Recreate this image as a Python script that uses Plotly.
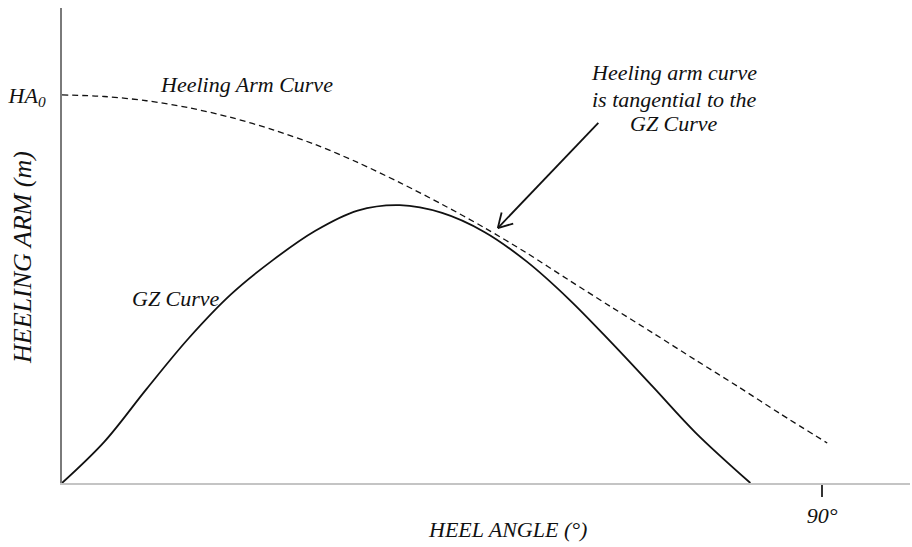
import math
import plotly.graph_objects as go

# Heel angle (degrees) and righting lever GZ (fraction of HA0)
gz_angle = [0, 5, 10, 15, 20, 25, 30, 35, 40, 45, 50, 55, 60, 65, 70, 75, 81.5]
gz_value = [0.0, 0.106, 0.242, 0.373, 0.486, 0.575, 0.650, 0.702, 0.716, 0.696,
            0.647, 0.571, 0.474, 0.363, 0.247, 0.130, 0.0]

# Heeling arm curve (fraction of HA0)
ha_angle = [0, 5, 10, 15, 20, 25, 30, 35, 40, 45, 50, 55, 60, 65, 70, 75, 80, 85, 90.6]
ha_value = [1.0, 0.996, 0.985, 0.967, 0.942, 0.910, 0.872, 0.826, 0.774, 0.718,
            0.658, 0.593, 0.523, 0.454, 0.386, 0.317, 0.249, 0.179, 0.103]

x_ticks = [90]
x_tick_text = ["90°"]
y_ticks = [1.0]
y_tick_text = ["HA<sub>0</sub>"]

X_RANGE = [0, 100.4]
Y_RANGE = [0, 1.224]
W, H = 912, 547
M = dict(l=62, r=2, t=8, b=64)
PW = W - M["l"] - M["r"]
PH = H - M["t"] - M["b"]

SERIF = "Liberation Serif, Times New Roman, serif"


def dom_x(px):
    return (px - M["l"]) / PW


def dom_y(py):
    return (H - M["b"] - py) / PH


fig = go.Figure()
fig.add_trace(go.Scatter(
    x=ha_angle, y=ha_value, mode="lines", line_shape="spline",
    line=dict(color="#111", width=1.3, dash="6px,4px", smoothing=0.9), hoverinfo="skip"))
fig.add_trace(go.Scatter(
    x=gz_angle, y=gz_value, mode="lines", line_shape="spline",
    line=dict(color="#111", width=1.8, smoothing=1.0), hoverinfo="skip"))

# Arrow pointing to the tangency point (open V head)
px_per_x = PW / (X_RANGE[1] - X_RANGE[0])
px_per_y = PH / (Y_RANGE[1] - Y_RANGE[0])
tail = (63.5, 0.928)
tip = (51.6, 0.657)
dx = (tail[0] - tip[0]) * px_per_x
dy = (tail[1] - tip[1]) * px_per_y
ang = math.atan2(dy, dx)
fig.add_shape(type="line", x0=tail[0], y0=tail[1], x1=tip[0], y1=tip[1],
              line=dict(color="#111", width=1.8))
for s in (-1, 1):
    a = ang + s * math.radians(30)
    wx = tip[0] + 16 * math.cos(a) / px_per_x
    wy = tip[1] + 16 * math.sin(a) / px_per_y
    fig.add_shape(type="line", x0=tip[0], y0=tip[1], x1=wx, y1=wy,
                  line=dict(color="#111", width=1.8))

text_font = dict(family=SERIF, size=22, color="#111")


def label(px, py, text, **kw):
    fig.add_annotation(x=dom_x(px), y=dom_y(py), xref="x domain", yref="y domain",
                       text=text, showarrow=False, font=kw.pop("font", text_font),
                       xanchor="center", yanchor="middle", **kw)


label(246, 84, "<i>Heeling Arm Curve</i>")
label(176, 298, "<i>GZ Curve</i>")
label(674, 73, "<i>Heeling arm curve</i>")
label(674, 99, "<i>is tangential to the</i>")
label(674, 124, "<i>GZ Curve</i>")
label(507, 529, "<i>HEEL ANGLE (°)</i>")
label(22, 258, "<i>HEELING ARM (m)</i>", textangle=-90,
      font=dict(family=SERIF, size=26, color="#111"))

fig.update_layout(
    width=W, height=H, margin=M, showlegend=False,
    paper_bgcolor="white", plot_bgcolor="white",
    xaxis=dict(range=X_RANGE, showgrid=False, zeroline=False,
               showline=True, linecolor="#c4c4c4", linewidth=2,
               tickvals=x_ticks, ticktext=["<i>%s</i>" % t for t in x_tick_text],
               ticks="outside", ticklen=12, tickwidth=2, tickcolor="#333",
               tickfont=dict(family=SERIF, size=22, color="#111")),
    yaxis=dict(range=Y_RANGE, showgrid=False, zeroline=False,
               showline=True, linecolor="#7a7a7a", linewidth=2,
               tickvals=y_ticks, ticktext=["<i>%s</i>" % t for t in y_tick_text],
               ticks="", ticklabelstandoff=10,
               tickfont=dict(family=SERIF, size=22, color="#111")),
)

fig.write_html("out.html")
